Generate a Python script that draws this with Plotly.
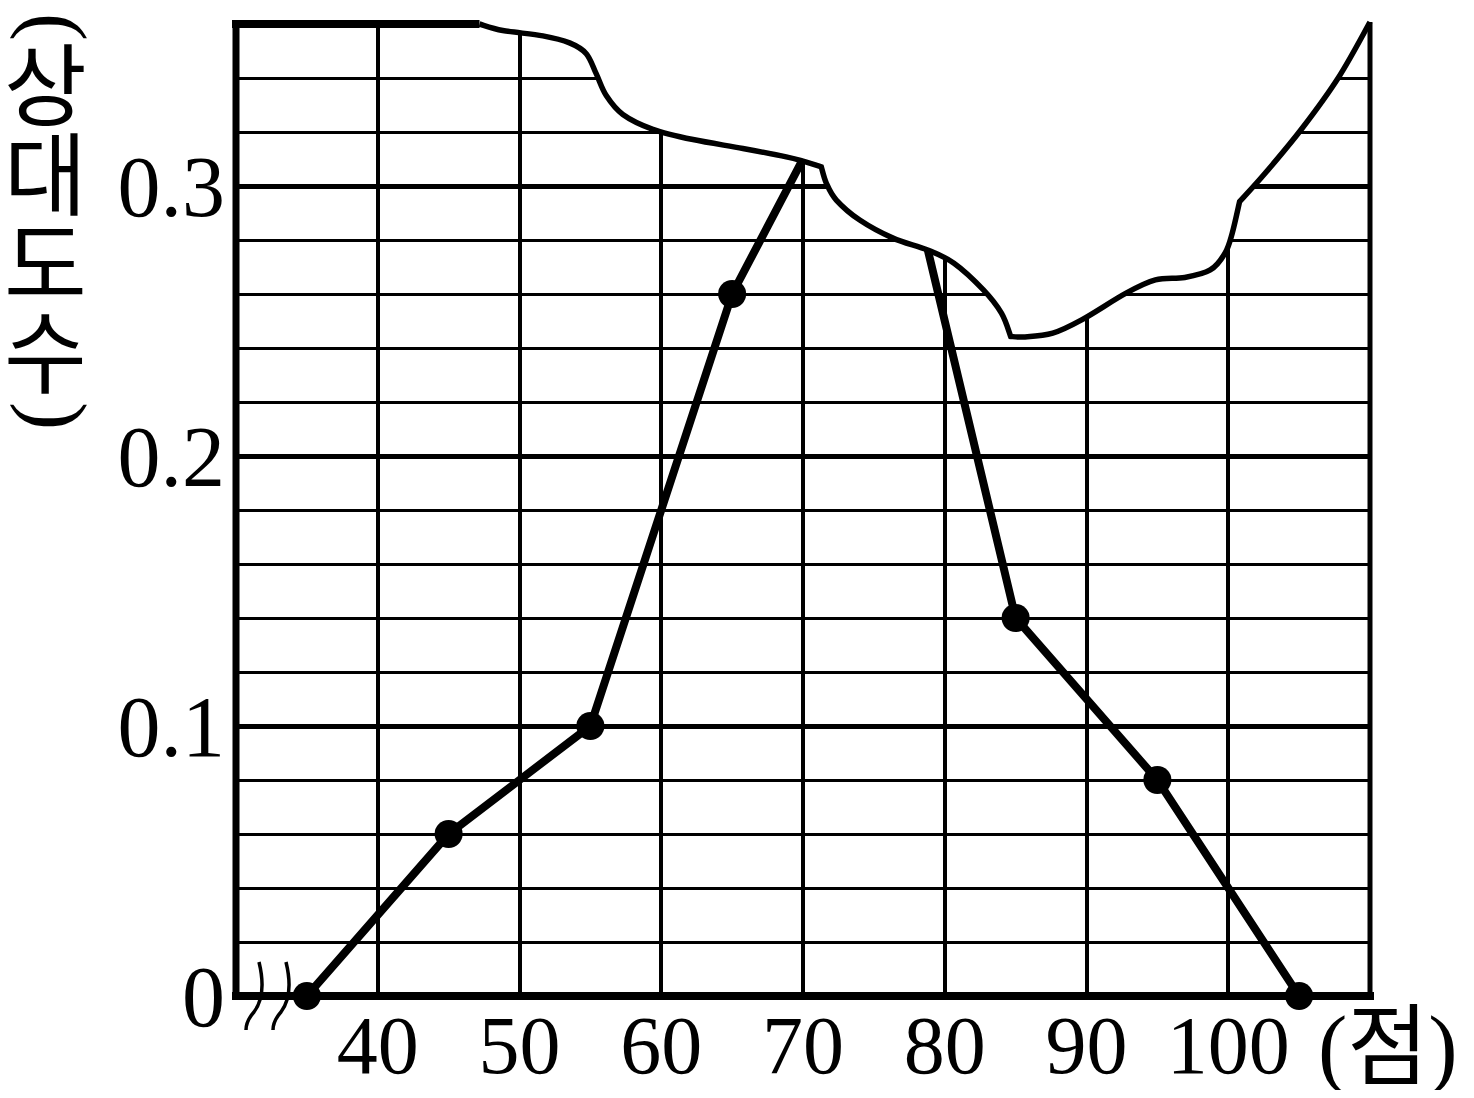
import plotly.graph_objects as go

# ---------------- data ----------------
scores = [35, 45, 55, 65, 75, 85, 95, 105]
rel_freq = [0.0, 0.06, 0.10, 0.26, 0.36, 0.14, 0.08, 0.0]

x_ticks = [40, 50, 60, 70, 80, 90, 100]
x_tick_labels = ["40", "50", "60", "70", "80", "90", "100"]
y_ticks = [0, 0.1, 0.2, 0.3]
y_tick_labels = ["0", "0.1", "0.2", "0.3"]
x_unit = "(점)"
y_title_open, y_title_body, y_title_close = "(", ["상", "대", "도", "수"], ")"

# torn-paper edge (data units), split into smooth pieces at its corners
tear_a_x = [47.18, 48.82, 51.65, 53.53, 54.71, 55.41, 56.12, 57.29, 59.41, 62.24, 65.76, 68.82, 70.0, 71.29]
tear_a_y = [0.3600, 0.3576, 0.3556, 0.3530, 0.3490, 0.3416, 0.3335, 0.3265, 0.3210, 0.3172, 0.3139, 0.3108, 0.3092, 0.3071]
tear_b_x = [71.29, 71.65, 72.35, 74.0, 76.35, 78.8, 80.65, 82.71, 84.0, 84.65]
tear_b_y = [0.3071, 0.3010, 0.2948, 0.2874, 0.2807, 0.2763, 0.2714, 0.2616, 0.2529, 0.2443]
tear_c_x = [84.65, 85.56, 87.62, 89.69, 92.79, 94.86, 96.93, 98.73, 99.77, 100.28, 100.8]
tear_c_y = [0.2443, 0.2441, 0.2455, 0.2505, 0.2603, 0.2652, 0.2661, 0.2689, 0.2751, 0.2825, 0.2942]
tear_d_x = [100.8, 102.6, 105.2, 107.8, 110.0]
tear_d_y = [0.2942, 0.3047, 0.3213, 0.3404, 0.3607]

X0, X1 = 30, 110
Y0, Y1 = 0, 0.36

OFF = 8                     # page body margin around the figure
W, H = 1458, 1082
ML, MR, MT, MB = 228, 96, 16, 94
PW, PH = W - ML - MR, H - MT - MB

SERIF = "Liberation Serif, Noto Sans CJK KR, serif"


def to_paper(x, y):
    return (x - X0) / (X1 - X0), (y - Y0) / (Y1 - Y0)


def px_to_paper(px, py):
    """page pixel position -> paper fraction"""
    return (px - OFF - ML) / PW, (H - MB - (py - OFF)) / PH


def smooth_segments(pts):
    s = ""
    n = len(pts)
    for i in range(n - 1):
        p0 = pts[i - 1] if i > 0 else pts[i]
        p1 = pts[i]
        p2 = pts[i + 1]
        p3 = pts[i + 2] if i + 2 < n else pts[i + 1]
        c1 = (p1[0] + (p2[0] - p0[0]) / 6, p1[1] + (p2[1] - p0[1]) / 6)
        c2 = (p2[0] - (p3[0] - p1[0]) / 6, p2[1] - (p3[1] - p1[1]) / 6)
        s += f" C {c1[0]:.5f},{c1[1]:.5f} {c2[0]:.5f},{c2[1]:.5f} {p2[0]:.5f},{p2[1]:.5f}"
    return s


pieces = [(tear_a_x, tear_a_y), (tear_b_x, tear_b_y), (tear_c_x, tear_c_y), (tear_d_x, tear_d_y)]
start = to_paper(tear_a_x[0], tear_a_y[0])
tear_path = f"M {start[0]:.5f},{start[1]:.5f}"
for xs, ys in pieces:
    pts = [to_paper(x, y) for x, y in zip(xs, ys)]
    tear_path += smooth_segments(pts)
end = to_paper(tear_d_x[-1], tear_d_y[-1])
fill_path = tear_path + f" L {end[0]:.5f},1.08 L {start[0]:.5f},1.08 Z"

fig = go.Figure()
fig.add_trace(go.Scatter(
    x=scores, y=rel_freq, mode="lines+markers",
    line=dict(color="black", width=8),
    marker=dict(color="black", size=28),
    cliponaxis=False, hoverinfo="skip", showlegend=False,
))

shapes = []
# white torn area and its edge
shapes.append(dict(type="path", xref="paper", yref="paper", path=fill_path,
                   fillcolor="white", line=dict(width=0), layer="above"))
shapes.append(dict(type="path", xref="paper", yref="paper", path=tear_path,
                   fillcolor="rgba(0,0,0,0)", line=dict(color="black", width=5.5), layer="above"))
# frame
ex = 4 / PW
ey = 4 / PH
shapes.append(dict(type="line", xref="paper", yref="paper", x0=0, x1=0, y0=-ey, y1=1 + ey,
                   line=dict(color="black", width=7), layer="above"))
shapes.append(dict(type="line", xref="paper", yref="paper", x0=-ex, x1=1 + ex, y0=0, y1=0,
                   line=dict(color="black", width=8), layer="above"))
shapes.append(dict(type="line", xref="paper", yref="paper", x0=1, x1=1, y0=0, y1=1.002,
                   line=dict(color="black", width=5), layer="above"))
shapes.append(dict(type="line", xref="paper", yref="paper", x0=-ex, x1=start[0], y0=1, y1=1,
                   line=dict(color="black", width=8), layer="above"))
# axis break mark
for dx in (0, 27):
    a = px_to_paper(259 + dx, 962)
    b = px_to_paper(267 + dx, 995)
    c = px_to_paper(254 + dx, 1012)
    d = px_to_paper(246 + dx, 1021)
    e = px_to_paper(246 + dx, 1030)
    p = (f"M {a[0]:.5f},{a[1]:.5f} Q {b[0]:.5f},{b[1]:.5f} {c[0]:.5f},{c[1]:.5f} "
         f"Q {d[0]:.5f},{d[1]:.5f} {e[0]:.5f},{e[1]:.5f}")
    shapes.append(dict(type="path", xref="paper", yref="paper", path=p,
                       fillcolor="rgba(0,0,0,0)", line=dict(color="black", width=3.5), layer="above"))

annotations = []
# vertical y title: stacked Hangul (line pitch from base font, glyphs enlarged), turned parentheses
body = "<br>".join(f'<span style="font-size:90px">{ch}</span>' for ch in y_title_body)
bx, by = px_to_paper(45, 222)
annotations.append(dict(text=body, xref="paper", yref="paper", x=bx, y=by,
                        xanchor="center", yanchor="middle", showarrow=False,
                        font=dict(family=SERIF, size=68.5, color="black")))
for ch, cy in ((y_title_open, 27), (y_title_close, 416)):
    ax, ay = px_to_paper(56, cy)
    annotations.append(dict(text=ch, xref="paper", yref="paper", x=ax, y=ay,
                            xanchor="center", yanchor="middle", showarrow=False,
                            textangle=90, font=dict(family=SERIF, size=84, color="black")))
ux, uy = px_to_paper(1388, 1047)
annotations.append(dict(text=x_unit, xref="paper", yref="paper", x=ux, y=uy,
                        xanchor="center", yanchor="middle", showarrow=False, height=88,
                        font=dict(family=SERIF, size=88, color="black")))

fig.update_layout(
    template=None,
    width=W, height=H,
    margin=dict(l=ML, r=MR, t=MT, b=MB, pad=0, autoexpand=False),
    paper_bgcolor="white", plot_bgcolor="white",
    shapes=shapes, annotations=annotations,
    xaxis=dict(range=[X0, X1], tickmode="array", tickvals=x_ticks, ticktext=x_tick_labels,
               automargin=False,
               showgrid=True, gridcolor="black", gridwidth=4, zeroline=False,
               showline=False, ticks="", ticklabelstandoff=-6,
               tickfont=dict(family=SERIF, size=82, color="black")),
    yaxis=dict(range=[Y0, Y1], tickmode="array", tickvals=y_ticks, ticktext=y_tick_labels,
               automargin=False,
               showgrid=True, gridcolor="black", gridwidth=5, zeroline=False,
               showline=False, ticks="", ticklabelstandoff=10,
               minor=dict(dtick=0.02, tick0=0, showgrid=True, gridcolor="black", gridwidth=2.5),
               tickfont=dict(family=SERIF, size=86, color="black")),
)

fig.write_html("out.html")
